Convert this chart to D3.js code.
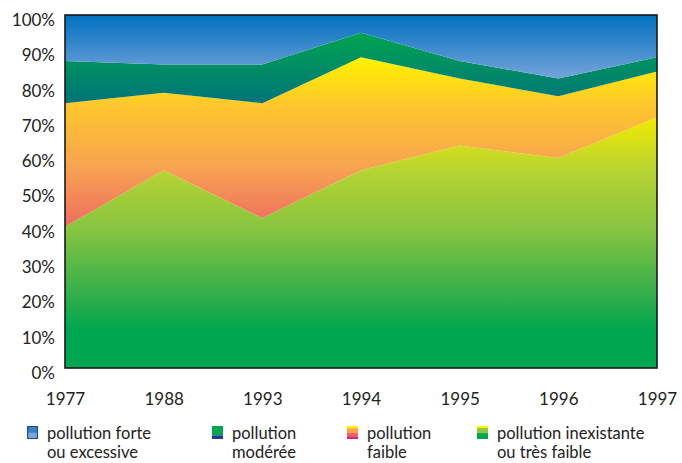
<!DOCTYPE html>
<html><head><meta charset="utf-8">
<script src="https://cdn.jsdelivr.net/npm/d3@7"></script>
<style>body{margin:0;background:#fff}svg{display:block}text{font-family:Lato,"Open Sans",sans-serif;fill:#222}</style>
</head><body><svg id="c" width="682" height="463"></svg>
<script>
const years = ["1977","1988","1993","1994","1995","1996","1997"];
const inexistante = [40, 56, 42.5, 56, 63, 59.5, 71];
const faible      = [35, 22, 32.5, 32, 19, 17.5, 13];
const moderee     = [12, 8, 11, 7, 5, 5, 4];
const forte       = [13, 14, 14, 5, 13, 18, 12];
const yTicks = [0,10,20,30,40,50,60,70,80,90,100];
const legendLabels = [["pollution forte","ou excessive"],["pollution","modérée"],["pollution","faible"],["pollution inexistante","ou très faible"]];

const svg = d3.select("#c");
const M = {l:65, r:657, t:15, b:368};
const x = d3.scalePoint().domain(years).range([M.l, M.r]);
const y = d3.scaleLinear().domain([0,100]).range([M.b, M.t]);

const keys = ["inexistante","faible","moderee","forte"];
const table = years.map((yr,i)=>({year:yr, inexistante:inexistante[i], faible:faible[i], moderee:moderee[i], forte:forte[i]}));
const series = d3.stack().keys(keys)(table);

const defs = svg.append("defs");
const grads = {
  forte: [[0,"#0070bf"],[1,"#76a4da"]],
  moderee: [[0,"#00a54f"],[1,"#00737a"]],
  faible: [[0,"#fff200"],[0.3,"#fdc52f"],[0.65,"#f7a352"],[1,"#ee6d60"]],
  inexistante: [[0,"#f2ea00"],[0.22,"#b5d334"],[0.45,"#86c440"],[0.7,"#35af4b"],[0.85,"#00a650"],[1,"#00a650"]]
};
Object.entries(grads).forEach(([k,stops])=>{
  const g = defs.append("linearGradient").attr("id","g_"+k).attr("x1",0).attr("y1",0).attr("x2",0).attr("y2",1);
  stops.forEach(s=>g.append("stop").attr("offset",s[0]).attr("stop-color",s[1]));
});

const area = d3.area().x(d=>x(d.data.year)).y0(d=>y(d[0])).y1(d=>y(d[1]));
svg.append("g").selectAll("path").data(series).join("path")
  .attr("d", area).attr("fill", d=>`url(#g_${d.key})`);

svg.append("rect").attr("x",M.l).attr("y",M.t).attr("width",M.r-M.l).attr("height",M.b-M.t)
  .attr("fill","none").attr("stroke","#1a1a1a").attr("stroke-width",1.6);

// y axis labels
const ya = svg.append("g").attr("transform",`translate(${M.l-7},5)`)
  .call(d3.axisLeft(y).tickValues(yTicks).tickFormat(d=>d+"%").tickSize(0));
ya.select(".domain").remove();
ya.selectAll("text").attr("font-size",17).attr("fill","#222").style("font-family","Lato,sans-serif");

// x axis labels
const xa = svg.append("g").attr("transform",`translate(0,${M.b+22})`)
  .call(d3.axisBottom(x).tickSize(0));
xa.select(".domain").remove();
xa.selectAll("text").attr("font-size",17).attr("fill","#222").style("font-family","Lato,sans-serif");

// legend
const legX = [27, 212, 347, 477];
const swatches = [
  [["#1f4f86",0,1],["#3b82c8",0.08,0.5],["#7ba8dc",0.5,0.92]],
  [["#00a651",0,0.72],["#233b8e",0.72,1]],
  [["#f7a154",0,1],["#fff200",0,0.18],["#ee6171",0.55,0.82],["#e5206d",0.82,1]],
  [["#00a651",0,1],["#fff200",0,0.2],["#8dc63f",0.2,0.55]]
];
const lg = svg.append("g");
legX.forEach((lx,i)=>{
  const sw = swatches[i];
  const h = 13, w = 11, top = 426;
  sw.forEach((s,j)=>{
    const inset = (i===0 && j>0) ? 1.2 : 0;
    lg.append("rect").attr("x",lx+inset).attr("y",top+s[1]*h).attr("width",w-2*inset).attr("height",(s[2]-s[1])*h).attr("fill",s[0]);
  });
  lg.append("text").attr("x",lx+w+9).attr("y",439).attr("font-size",16.5).text(legendLabels[i][0]);
  lg.append("text").attr("x",lx+w+9).attr("y",458).attr("font-size",16.5).text(legendLabels[i][1]);
});
</script></body></html>
